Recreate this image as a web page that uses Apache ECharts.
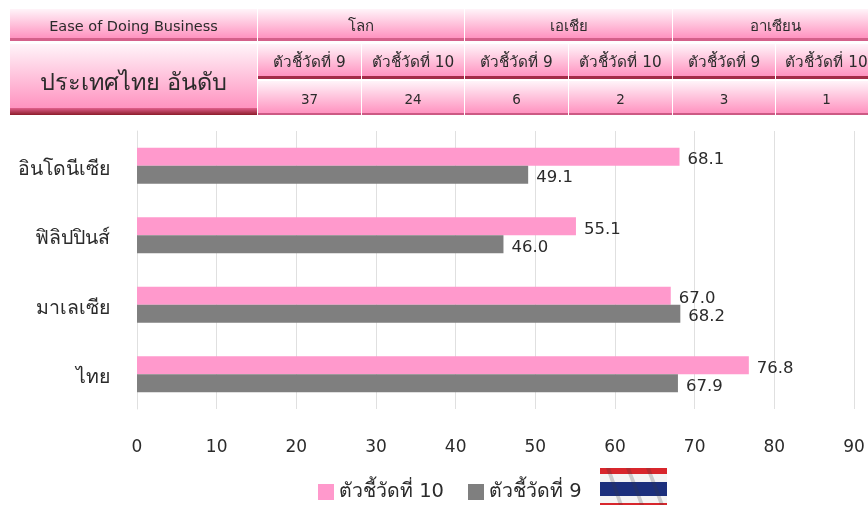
<!DOCTYPE html>
<html>
<head>
<meta charset="utf-8">
<style>
  html, body { margin: 0; padding: 0; background: #fff; overflow: hidden; }
  #chart { width: 868px; height: 505px; }
</style>
<script src="https://cdn.jsdelivr.net/npm/echarts@6/dist/echarts.min.js"></script>
</head>
<body>
<div id="chart"></div>
<script>
var categories = ['ไทย', 'มาเลเซีย', 'ฟิลิปปินส์', 'อินโดนีเซีย']
var indicator10 = [76.8, 67.0, 55.1, 68.1]
var indicator9 = [67.9, 68.2, 46.0, 49.1]
var xTicks = [0, 10, 20, 30, 40, 50, 60, 70, 80, 90]
var seriesNames = ['ตัวชี้วัดที่ 10', 'ตัวชี้วัดที่ 9']

var headTitle = 'Ease of Doing Business'
var rowTitle = 'ประเทศไทย อันดับ'
var regions = ['โลก', 'เอเชีย', 'อาเซียน']
var subHeads = ['ตัวชี้วัดที่ 9', 'ตัวชี้วัดที่ 10', 'ตัวชี้วัดที่ 9', 'ตัวชี้วัดที่ 10', 'ตัวชี้วัดที่ 9', 'ตัวชี้วัดที่ 10']
var ranks = ['37', '24', '6', '2', '3', '1']

var FONT = '"DejaVu Sans", "Noto Sans", sans-serif'

// หัวตาราง: ไล่สีชมพู แถบล่างเข้ม
function cell (x, y, w, h, text, size, barColor, barHeight, dy) {
  return [
    {
      type: 'rect',
      shape: { x: x, y: y, width: w, height: h - barHeight },
      style: {
        fill: new echarts.graphic.LinearGradient(0, 0, 0, 1, [
          { offset: 0, color: '#fff4f9' },
          { offset: 1, color: '#ff93c0' }
        ])
      }
    },
    {
      type: 'rect',
      shape: { x: x, y: y + h - barHeight, width: w, height: barHeight },
      style: { fill: barColor }
    },
    {
      type: 'text',
      style: {
        x: x + w / 2,
        y: y + (h - barHeight) / 2 + dy,
        text: text,
        align: 'center',
        verticalAlign: 'middle',
        fill: '#2b2b2b',
        font: size + 'px ' + FONT
      }
    }
  ]
}

function buildHeader () {
  var out = []
  var colX = [258, 362, 465, 569, 673, 776, 878]
  var tallBar = new echarts.graphic.LinearGradient(0, 0, 0, 1, [
    { offset: 0, color: '#e0608c' },
    { offset: 1, color: '#8c1c2a' }
  ])
  out = out.concat(cell(10, 9, 247, 32, headTitle, 14.5, '#d4608a', 3, 4))
  out = out.concat(cell(10, 44, 247, 71, rowTitle, 23.5, tallBar, 7, 8))
  regions.forEach(function (r, i) {
    out = out.concat(cell(colX[i * 2], 9, colX[i * 2 + 2] - colX[i * 2] - 1, 32, r, 15, '#d4608a', 3, 4))
  })
  subHeads.forEach(function (s, i) {
    out = out.concat(cell(colX[i], 44, colX[i + 1] - colX[i] - 1, 35, s, 15.3, '#a32c48', 3, 3))
  })
  ranks.forEach(function (s, i) {
    out = out.concat(cell(colX[i], 81, colX[i + 1] - colX[i] - 1, 34, s, 13.5, '#cc5a84', 2, 3))
  })
  return out
}

// ธงชาติไทยข้างคำอธิบาย
function buildFlag () {
  var x = 600
  var w = 67
  var stripes = [
    [468, 6, '#d8262c'],
    [474, 8, '#f4f4f4'],
    [482, 14, '#1c2f7c'],
    [496, 7, '#f4f4f4'],
    [503, 2, '#d8262c']
  ]
  var out = stripes.map(function (s) {
    return { type: 'rect', shape: { x: x, y: s[0], width: w, height: s[1] }, style: { fill: s[2] } }
  })
  var folds = [[606, 619], [626, 640], [646, 660]]
  folds.forEach(function (f) {
    out.push({
      type: 'polygon',
      shape: { points: [[f[0], 468], [f[0] + 4, 468], [f[1] + 4, 505], [f[1], 505]] },
      style: { fill: 'rgba(60,60,60,0.22)' }
    })
  })
  return out
}

var chart = echarts.init(document.getElementById('chart'), null, { renderer: 'canvas' })

function labelFor () {
  return {
    show: true,
    position: 'right',
    distance: 8,
    offset: [0, 3],
    color: '#2b2b2b',
    fontSize: 16.5,
    fontFamily: FONT,
    formatter: function (p) { return p.value.toFixed(1) }
  }
}

chart.setOption({
  animation: false,
  backgroundColor: '#fff',
  textStyle: { fontFamily: FONT },
  grid: { left: 137, top: 131, width: 717, height: 278 },
  legend: {
    data: seriesNames,
    left: 313,
    top: 477,
    itemWidth: 16,
    itemHeight: 16,
    itemGap: 24,
    icon: 'rect',
    textStyle: { fontSize: 19.5, color: '#2b2b2b', fontFamily: FONT }
  },
  xAxis: {
    type: 'value',
    min: xTicks[0],
    max: xTicks[xTicks.length - 1],
    interval: 10,
    axisLine: { show: false },
    axisTick: { show: false },
    axisLabel: { color: '#2b2b2b', fontSize: 17, margin: 30, fontFamily: FONT },
    splitLine: { lineStyle: { color: '#e0e0e0', width: 1 } }
  },
  yAxis: {
    type: 'category',
    data: categories,
    axisLine: { lineStyle: { color: '#e0e0e0' } },
    axisTick: { show: false },
    axisLabel: {
      margin: 27,
      formatter: function (v) { return '{a|' + v + '}' },
      rich: {
        a: { color: '#2b2b2b', fontSize: 19.5, fontFamily: FONT, padding: [8, 0, 0, 0] }
      }
    }
  },
  series: [
    {
      name: seriesNames[0],
      type: 'bar',
      data: indicator10,
      barWidth: 18,
      barGap: '0%',
      itemStyle: { color: '#ff99cc' },
      label: labelFor()
    },
    {
      name: seriesNames[1],
      type: 'bar',
      data: indicator9,
      barWidth: 18,
      itemStyle: { color: '#7f7f7f' },
      label: labelFor()
    }
  ],
  graphic: { elements: buildHeader().concat(buildFlag()) }
})
</script>
</body>
</html>
